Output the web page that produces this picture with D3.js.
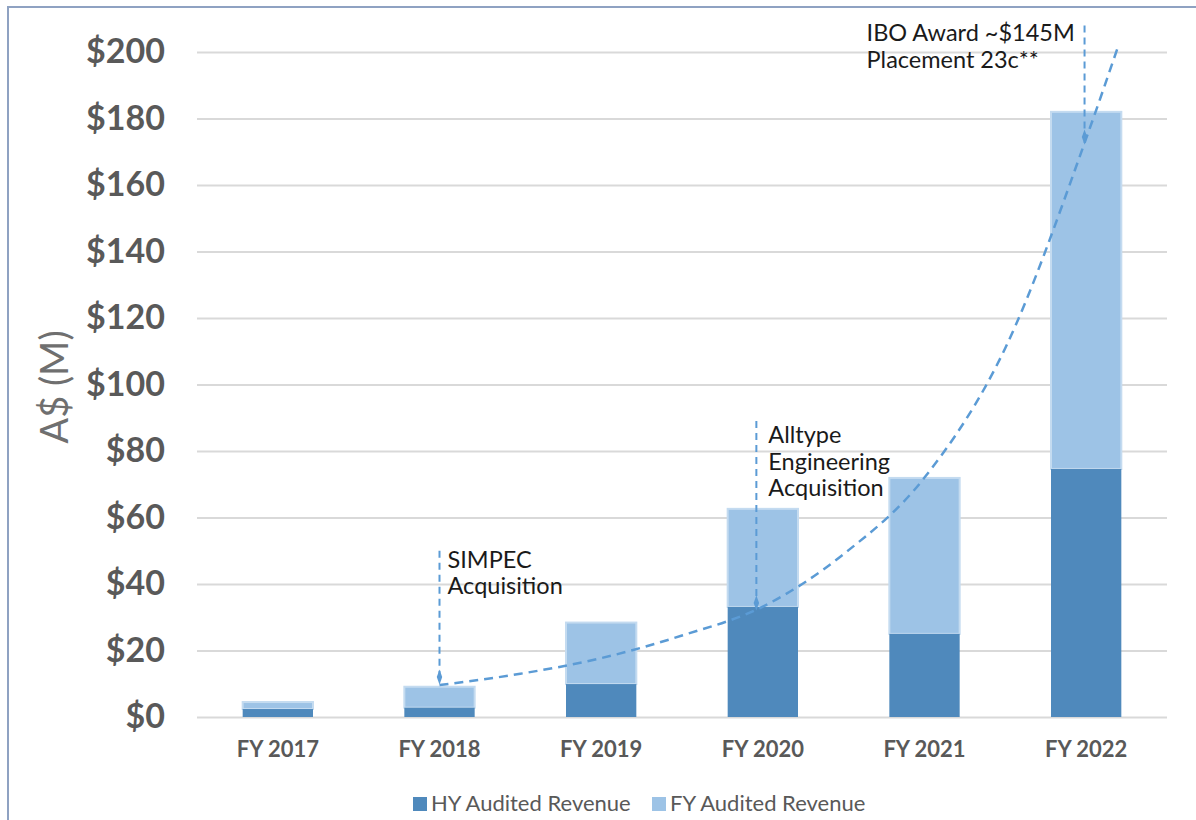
<!DOCTYPE html>
<html>
<head>
<meta charset="utf-8">
<script src="https://cdn.jsdelivr.net/npm/d3@7"></script>
<style>
  body { margin: 0; background: #fff; }
  svg { display: block; font-family: Lato, "Open Sans", sans-serif; }
</style>
</head>
<body>
<svg id="chart" width="1196" height="820"></svg>
<script>
// values
const categories = ["FY 2017", "FY 2018", "FY 2019", "FY 2020", "FY 2021", "FY 2022"];
const hyRevenue = [2.4, 2.8, 9.9, 33.1, 25.0, 74.6];
const fyRevenue = [4.5, 9.1, 28.4, 62.6, 71.9, 182.0];
const yTicks = [0, 20, 40, 60, 80, 100, 120, 140, 160, 180, 200];
const trendIndex = [1, 1.5, 2, 2.5, 3, 3.5, 4, 4.5, 5, 5.2];
const trendValue = [9.6, 13.0, 17.7, 24.5, 33.2, 49.0, 72.0, 111.0, 174.0, 202.0];
const annotationIndex = [1, 2.96, 4.99];
const annotationTop = [50, 89, 208];
const annotationPoint = [12, 34.3, 174.4];
const annotationText = [
    ["SIMPEC", "Acquisition"],
    ["Alltype", "Engineering", "Acquisition"],
    ["IBO Award ~$145M", "Placement 23c**"]
];
const legendLabels = ["HY Audited Revenue", "FY Audited Revenue"];

const chartSettings = {
    left: 197,
    right: 1167,
    top: 52,
    bottom: 717,
    barRatio: 0.435,
    hyColor: "#4f89bc",
    fyColor: "#9dc3e6",
    barStroke: "#c4dbf0",
    trendColor: "#5b9bd5",
    gridColor: "#d9d9d9",
    textGray: "#595959"
};

// where each annotation's text block starts (pixels from its line, first baseline)
const annotationLayout = [
    { dx: 8, dy: 17 },
    { dx: 12, dy: 22 },
    { dx: -218, dy: 16 }
];

const svg = d3.select("#chart");

// frame like the pasted slide box
svg.append("rect")
    .attr("x", 8)
    .attr("y", 7)
    .attr("width", 1300)
    .attr("height", 900)
    .attr("fill", "none")
    .attr("stroke", "#8fa2c2")
    .attr("stroke-width", 2);

const x = d3.scaleBand()
    .domain(categories)
    .range([chartSettings.left, chartSettings.right])
    .padding(0);

const y = d3.scaleLinear()
    .domain([0, 200])
    .range([chartSettings.bottom, chartSettings.top]);

// fractional category index -> pixel
function xAt(idx) {
    return x(categories[0]) + x.step() * (idx + 0.5);
}

// gridlines + y labels
const yAxis = svg.append("g")
    .attr("transform", `translate(${chartSettings.left},0)`)
    .call(
        d3.axisLeft(y)
            .tickValues(yTicks)
            .tickFormat(d => "$" + d)
            .tickSize(-(chartSettings.right - chartSettings.left))
            .tickPadding(32)
    );
yAxis.select(".domain").remove();
yAxis.selectAll(".tick line")
    .attr("stroke", chartSettings.gridColor)
    .attr("stroke-width", 2);
yAxis.selectAll(".tick text")
    .attr("fill", chartSettings.textGray)
    .attr("font-size", 34)
    .attr("font-weight", "bold")
    .attr("font-family", "Lato, sans-serif");

svg.append("text")
    .attr("transform", "translate(68,387) rotate(-90)")
    .attr("text-anchor", "middle")
    .attr("fill", "#6f6f6f")
    .attr("font-size", 38)
    .text("A$ (M)");

// bars
const barWidth = x.bandwidth() * chartSettings.barRatio;
const bars = svg.append("g").attr("class", "bars")
    .selectAll("g")
    .data(categories)
    .join("g");

bars.append("rect")
    .attr("x", d => x(d) + (x.bandwidth() - barWidth) / 2)
    .attr("y", (d, i) => y(fyRevenue[i]))
    .attr("width", barWidth)
    .attr("height", (d, i) => y(hyRevenue[i]) - y(fyRevenue[i]))
    .attr("fill", chartSettings.fyColor)
    .attr("stroke", chartSettings.barStroke)
    .attr("stroke-width", 2);

bars.append("rect")
    .attr("x", d => x(d) + (x.bandwidth() - barWidth) / 2)
    .attr("y", (d, i) => y(hyRevenue[i]))
    .attr("width", barWidth)
    .attr("height", (d, i) => y(0) - y(hyRevenue[i]))
    .attr("fill", chartSettings.hyColor);

// x labels
const xAxis = svg.append("g")
    .attr("transform", `translate(0,${chartSettings.bottom})`)
    .call(d3.axisBottom(x).tickSize(0).tickPadding(0));
xAxis.select(".domain").remove();
xAxis.selectAll(".tick text")
    .attr("y", 40)
    .attr("dy", 0)
    .attr("fill", chartSettings.textGray)
    .attr("font-size", 22)
    .attr("font-weight", "bold")
    .attr("font-family", "Lato, sans-serif");

// trend line
const trendLine = d3.line()
    .x(d => xAt(d[0]))
    .y(d => y(d[1]))
    .curve(d3.curveMonotoneX);

svg.append("path")
    .datum(trendIndex.map((d, i) => [d, trendValue[i]]))
    .attr("d", trendLine)
    .attr("fill", "none")
    .attr("stroke", chartSettings.trendColor)
    .attr("stroke-width", 2.5)
    .attr("stroke-dasharray", "9,6");

// annotations
const notes = svg.append("g").attr("class", "annotations")
    .selectAll("g")
    .data(annotationIndex)
    .join("g");

notes.append("line")
    .attr("x1", d => xAt(d))
    .attr("x2", d => xAt(d))
    .attr("y1", (d, i) => y(annotationTop[i]))
    .attr("y2", (d, i) => y(annotationPoint[i]))
    .attr("stroke", chartSettings.trendColor)
    .attr("stroke-width", 2)
    .attr("stroke-dasharray", "7,5");

notes.append("path")
    .attr("d", d3.symbol(d3.symbolDiamond, 40))
    .attr("transform", (d, i) => `translate(${xAt(d)},${y(annotationPoint[i])}) scale(0.8,1.3)`)
    .attr("fill", chartSettings.trendColor);

notes.append("text")
    .attr("fill", "#1a1a1a")
    .attr("font-size", 23.5)
    .each(function (d, i) {
        const t = d3.select(this);
        const x0 = xAt(d) + annotationLayout[i].dx;
        const y0 = y(annotationTop[i]) + annotationLayout[i].dy;
        annotationText[i].forEach((line, k) => {
            t.append("tspan")
                .attr("x", x0)
                .attr("y", y0 + k * 26.5)
                .text(line);
        });
    });

// legend
const legendColors = [chartSettings.hyColor, chartSettings.fyColor];
const legendX = [413, 652];
const legend = svg.append("g")
    .selectAll("g")
    .data(legendLabels)
    .join("g")
    .attr("transform", (d, i) => `translate(${legendX[i]},797)`);

legend.append("rect")
    .attr("width", 14)
    .attr("height", 14)
    .attr("fill", (d, i) => legendColors[i]);

legend.append("text")
    .attr("x", 18)
    .attr("y", 14)
    .attr("fill", chartSettings.textGray)
    .attr("font-size", 22)
    .text(d => d);
</script>
</body>
</html>
